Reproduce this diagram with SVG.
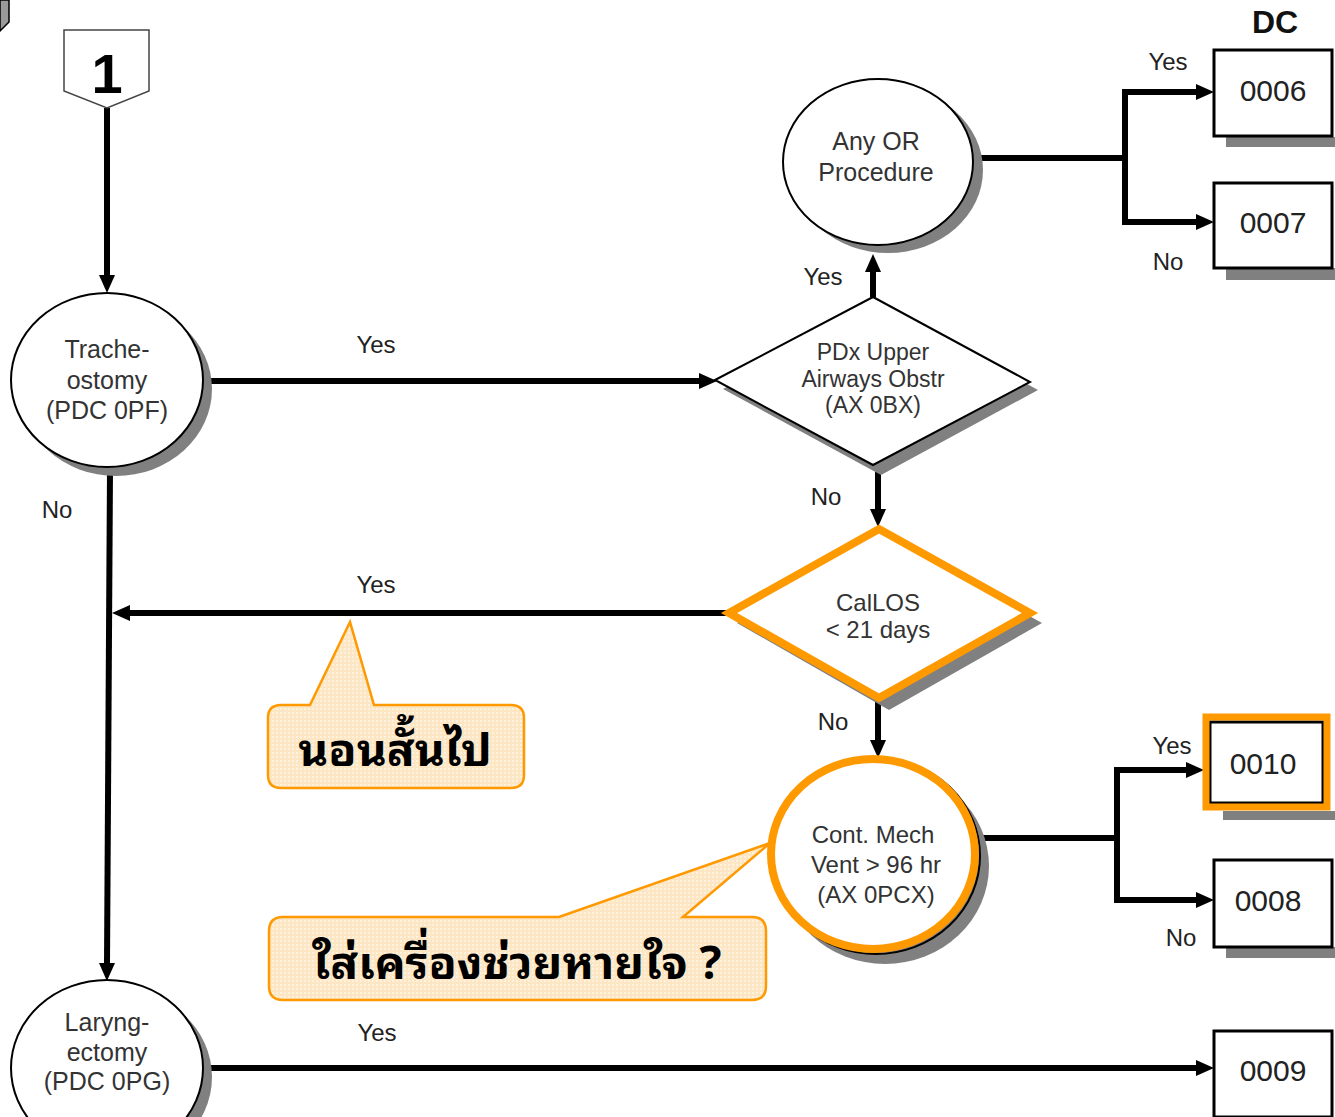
<svg xmlns="http://www.w3.org/2000/svg" width="1335" height="1117" viewBox="0 0 1335 1117">
<defs>
<style>
.t{font-family:"Liberation Sans",Arial,sans-serif;fill:#333;text-anchor:middle}
.lbl{font-family:"Liberation Sans",Arial,sans-serif;fill:#222;font-size:24px;text-anchor:middle}
.num{font-family:"Liberation Sans",Arial,sans-serif;fill:#222;font-size:30px;text-anchor:middle}
.node{fill:#fff;stroke:#000;stroke-width:2}
.sh{fill:#808080}
.box{fill:#fff;stroke:#000;stroke-width:3}
.con{fill:none;stroke:#000;stroke-width:6}
.org{fill:#fff;stroke:#FF9900;stroke-width:8}
.call{fill:url(#grid);stroke:#FF9900;stroke-width:2.5}
.thai{font-family:"Noto Sans Thai Looped","Noto Serif Thai","Tahoma","Loma","Garuda","Noto Sans Thai","DejaVu Sans",sans-serif;font-weight:bold;font-size:46px;fill:#000;text-anchor:middle}
</style>
<marker id="arr" viewBox="0 0 18 16" refX="1" refY="8" markerWidth="18" markerHeight="16" markerUnits="userSpaceOnUse" orient="auto">
<path d="M0,0 L18,8 L0,16 z" fill="#000"/>
</marker>
<pattern id="grid" width="4" height="4" patternUnits="userSpaceOnUse">
<rect width="4" height="4" fill="#FDE6C4"/>
<rect width="2" height="2" fill="#FEF1DD"/>
</pattern>
</defs>

<polygon points="0,0 9,0 9,22 0,31" fill="#9a9a9a" stroke="#000" stroke-width="1.5"/>

<g id="connectors">
<path class="con" d="M107,108 L107,276" marker-end="url(#arr)"/>
<path class="con" d="M203,381 L700,381" marker-end="url(#arr)"/>
<path class="con" d="M873,297 L873,271" marker-end="url(#arr)"/>
<path class="con" d="M975,158 L1125,158"/>
<path class="con" d="M1125,89 L1125,225"/>
<path class="con" d="M1122,92 L1197,92" marker-end="url(#arr)"/>
<path class="con" d="M1122,222 L1197,222" marker-end="url(#arr)"/>
<path class="con" d="M878,467 L878,510" marker-end="url(#arr)"/>
<path class="con" d="M727,613 L129,613" marker-end="url(#arr)"/>
<path class="con" d="M110,470 L107,964" marker-end="url(#arr)"/>
<path class="con" d="M878,700 L878,741" marker-end="url(#arr)"/>
<path class="con" d="M978,838 L1117,838"/>
<path class="con" d="M1117,767 L1117,903"/>
<path class="con" d="M1114,770 L1187,770" marker-end="url(#arr)"/>
<path class="con" d="M1114,900 L1197,900" marker-end="url(#arr)"/>
<path class="con" d="M203,1068 L1197,1068" marker-end="url(#arr)"/>
</g>

<g id="labels">
<text class="lbl" x="376" y="353">Yes</text>
<text class="lbl" x="823" y="285">Yes</text>
<text class="lbl" x="1168" y="70">Yes</text>
<text class="lbl" x="1168" y="270">No</text>
<text class="lbl" x="826" y="505">No</text>
<text class="lbl" x="376" y="593">Yes</text>
<text class="lbl" x="57" y="518">No</text>
<text class="lbl" x="833" y="730">No</text>
<text class="lbl" x="1172" y="754">Yes</text>
<text class="lbl" x="1181" y="946">No</text>
<text class="lbl" x="377" y="1041">Yes</text>
<text x="1275" y="33" font-family="Liberation Sans,Arial,sans-serif" font-weight="bold" font-size="32" fill="#111" text-anchor="middle">DC</text>
</g>

<g id="start">
<polygon points="64,30 149,30 149,91 107,108 64,91" fill="#fff" stroke="#444" stroke-width="1.5"/>
<text x="107" y="93" font-family="Liberation Sans,Arial,sans-serif" font-weight="bold" font-size="56" fill="#000" text-anchor="middle">1</text>
</g>

<g id="trache">
<ellipse class="sh" cx="116" cy="389" rx="96" ry="87"/>
<ellipse class="node" cx="107" cy="380" rx="96" ry="87"/>
<text class="t" font-size="25" x="107" y="358">Trache-</text>
<text class="t" font-size="25" x="107" y="389">ostomy</text>
<text class="t" font-size="25" x="107" y="419">(PDC 0PF)</text>
</g>

<g id="pdx">
<polygon class="sh" points="723,389 881,305 1038,390 881,475"/>
<polygon class="node" points="715,380 873,297 1030,382 873,465"/>
<text class="t" font-size="23" x="873" y="360">PDx Upper</text>
<text class="t" font-size="23" x="873" y="387">Airways Obstr</text>
<text class="t" font-size="23" x="873" y="413">(AX 0BX)</text>
</g>

<g id="anyor">
<ellipse class="sh" cx="888" cy="170" rx="95" ry="83"/>
<ellipse class="node" cx="878" cy="162" rx="95" ry="83"/>
<text class="t" font-size="25" x="876" y="150">Any OR</text>
<text class="t" font-size="25" x="876" y="181">Procedure</text>
</g>

<g id="dc0006">
<rect class="sh" x="1226" y="137" width="109" height="10"/>
<rect class="box" x="1214" y="50" width="118" height="86"/>
<text class="num" x="1273" y="101">0006</text>
</g>

<g id="dc0007">
<rect class="sh" x="1226" y="268" width="109" height="12"/>
<rect class="box" x="1214" y="183" width="118" height="85"/>
<text class="num" x="1273" y="233">0007</text>
</g>

<g id="callos">
<polygon class="sh" points="737,623 889,538 1042,623 889,710"/>
<polygon class="org" points="729,613 879,529 1030,613 879,698"/>
<text class="t" font-size="24" x="878" y="611">CalLOS</text>
<text class="t" font-size="24" x="878" y="638">&lt; 21 days</text>
</g>

<g id="contmech">
<ellipse class="sh" cx="885" cy="866" rx="104" ry="98"/>
<ellipse cx="876" cy="856" rx="104" ry="98" fill="none" stroke="#000" stroke-width="2"/>
<ellipse class="org" cx="873" cy="854" rx="102" ry="95"/>
<text class="t" font-size="24" x="873" y="843">Cont. Mech</text>
<text class="t" font-size="24" x="876" y="873">Vent &gt; 96 hr</text>
<text class="t" font-size="24" x="876" y="903">(AX 0PCX)</text>
</g>

<g id="dc0010">
<rect class="sh" x="1223" y="811" width="112" height="9"/>
<rect x="1210" y="722" width="113" height="81" fill="#fff" stroke="#000" stroke-width="3"/>
<rect x="1206" y="717" width="121" height="90" fill="none" stroke="#FF9900" stroke-width="7"/>
<text class="num" x="1263" y="774">0010</text>
</g>

<g id="dc0008">
<rect class="sh" x="1226" y="947" width="109" height="11"/>
<rect class="box" x="1214" y="860" width="118" height="87"/>
<text class="num" x="1268" y="911">0008</text>
</g>

<g id="laryng">
<ellipse class="sh" cx="116" cy="1077" rx="96" ry="88"/>
<ellipse class="node" cx="107" cy="1068" rx="96" ry="88"/>
<text class="t" font-size="25" x="107" y="1031">Laryng-</text>
<text class="t" font-size="25" x="107" y="1061">ectomy</text>
<text class="t" font-size="25" x="107" y="1090">(PDC 0PG)</text>
</g>

<g id="dc0009">
<rect class="box" x="1214" y="1031" width="118" height="86"/>
<text class="num" x="1273" y="1081">0009</text>
</g>

<g id="callout1">
<path class="call" d="M281,705 L310,705 L350,622 L374,705 L511,705 Q524,705 524,718 L524,775 Q524,788 511,788 L281,788 Q268,788 268,775 L268,718 Q268,705 281,705 Z"/>
<text class="thai" x="395" y="766">นอนสั้นไป</text>
</g>

<g id="callout2">
<path class="call" d="M283,917 L559,917 L770,843 L683,917 L752,917 Q766,917 766,931 L766,986 Q766,1000 752,1000 L283,1000 Q269,1000 269,986 L269,931 Q269,917 283,917 Z"/>
<text class="thai" x="517" y="979">ใส่เครื่องช่วยหายใจ ?</text>
</g>
</svg>
